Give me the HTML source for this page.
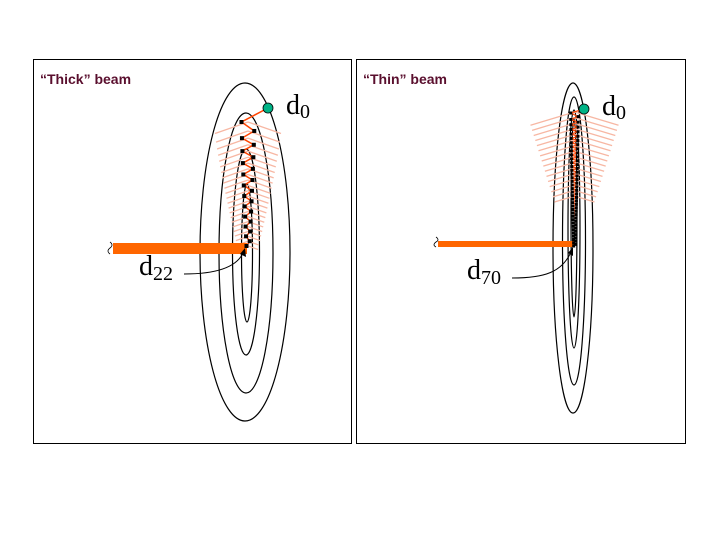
<!DOCTYPE html>
<html><head><meta charset="utf-8"><style>
body{margin:0;background:#fff;width:720px;height:540px;overflow:hidden}
svg{display:block}
</style></head><body>
<svg id="s" width="720" height="540" xmlns="http://www.w3.org/2000/svg">
<rect x="33.5" y="59.5" width="318" height="384" fill="none" stroke="#000" stroke-width="1"/>
<rect x="356.5" y="59.5" width="329" height="384" fill="none" stroke="#000" stroke-width="1"/>
<text x="40" y="84" font-family="Liberation Sans, sans-serif" font-weight="bold" font-size="14" fill="#5a0f2e">“Thick” beam</text>
<text x="363" y="84" font-family="Liberation Sans, sans-serif" font-weight="bold" font-size="14" fill="#5a0f2e">“Thin” beam</text>
<g fill="none" stroke="#000" stroke-width="1.2">
<ellipse cx="245" cy="252" rx="45" ry="169"/>
<ellipse cx="246" cy="253" rx="27" ry="140"/>
<ellipse cx="246" cy="252" rx="13.5" ry="103"/>
<ellipse cx="247" cy="253" rx="5.5" ry="69"/>
<ellipse cx="573" cy="248" rx="20" ry="165"/>
<ellipse cx="574" cy="241" rx="11.5" ry="144"/>
<ellipse cx="574" cy="229" rx="6" ry="119"/>
<ellipse cx="574" cy="218" rx="3" ry="99"/>
</g>
<g id="hatch" stroke="#f7b7a3" stroke-width="1.3"></g>
<rect x="113" y="243" width="134" height="11" fill="#ff6600"/>
<rect x="438" y="241" width="136" height="6" fill="#ff6600"/>
<path d="M110 242 q4 3 0 6 q-4 3 0 6" fill="none" stroke="#000" stroke-width="0.8"/>
<path d="M436 237 q4 3 0 5 q-4 3 0 5" fill="none" stroke="#000" stroke-width="0.8"/>
<g id="zz"></g>
<circle cx="268" cy="108" r="5" fill="#00b386" stroke="#000" stroke-width="0.8"/>
<circle cx="584" cy="109" r="5" fill="#00b386" stroke="#000" stroke-width="0.8"/>
<g font-family="Liberation Serif, serif" fill="#000">
<text x="286" y="114" font-size="28">d<tspan font-size="20" dy="4">0</tspan></text>
<text x="602" y="115" font-size="28">d<tspan font-size="20" dy="4">0</tspan></text>
<text x="139" y="275" font-size="28">d<tspan font-size="20" dy="5">22</tspan></text>
<text x="467" y="279" font-size="28">d<tspan font-size="20" dy="5">70</tspan></text>
</g>
<g fill="none" stroke="#000" stroke-width="1">
<path d="M184 274 C215 274 236 268 243 253"/>
<path d="M512 278 C545 278 562 272 571 252"/>
</g>
<path d="M245 248 L246 257 L240 254 Z" fill="#000"/>
<path d="M573 247 L573 256 L568 253 Z" fill="#000"/>
</svg>
<script>
var NS="http://www.w3.org/2000/svg";
var H=document.getElementById('hatch'),Z=document.getElementById('zz');
function el(p,t,a){var e=document.createElementNS(NS,t);for(var k in a)e.setAttribute(k,a[k]);p.appendChild(e);return e;}
function beam(n,cx,y0,y1,a0,a1,w0,w1,sx,sy,sw,sq,hatch){
 var pts=[[sx,sy]];
 for(var i=0;i<=n;i++){var t=i/n;var y=y0+(y1-y0)*Math.pow(t,0.85);var a=a0+(a1-a0)*t;var x=cx+(i%2?a:-a);pts.push([x,y]);
  if(hatch){var w=w0+(w1-w0)*t;
  el(H,'line',{x1:cx-w,y1:y+w*0.35,x2:cx,y2:y});
  el(H,'line',{x1:cx+w,y1:y+w*0.35,x2:cx,y2:y});}
 }
 el(Z,'polyline',{points:pts.map(function(p){return p.join(',')}).join(' '),fill:'none',stroke:'#ff4400','stroke-width':sw});
 for(var j=1;j<pts.length;j++)el(Z,'rect',{x:pts[j][0]-sq/2,y:pts[j][1]-sq/2,width:sq,height:sq,fill:'#000'});
}
beam(22,248,122,246,6.5,1.5,33,10,268,108,1.5,4,true);
for(var i=0;i<16;i++){var y=112+i*5.6,w=44-i*1.6,c=574.5;
 el(H,'line',{x1:c-w,y1:y+w*0.3,x2:c,y2:y});
 el(H,'line',{x1:c+w,y1:y+w*0.3,x2:c,y2:y});}
beam(70,574.5,113,246,3.8,0.8,0,0,584,109,1.2,3,false);
</script>
</body></html>
